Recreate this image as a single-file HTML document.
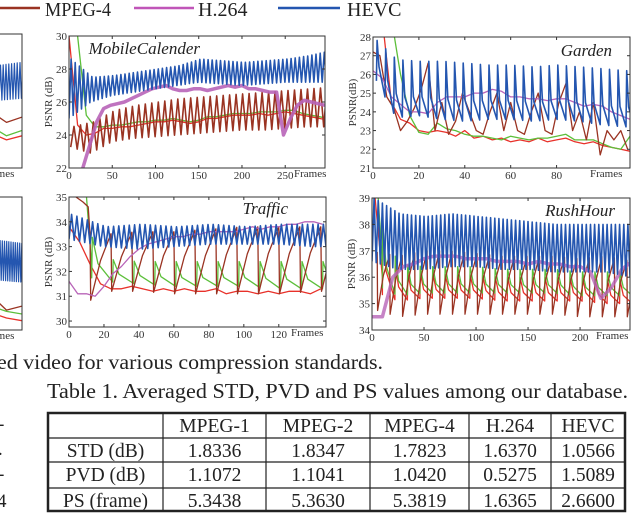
<!DOCTYPE html>
<html><head><meta charset="utf-8">
<style>
html,body{margin:0;padding:0;background:#fff;}
body{width:640px;height:513px;overflow:hidden;position:relative;font-family:"Liberation Serif",serif;}
svg{position:absolute;left:0;top:0;}
</style></head>
<body>
<svg id="fig" width="640" height="513" viewBox="0 0 640 513">
  <g>
    <line x1="0" y1="8" x2="40" y2="8" stroke="#9a3322" stroke-width="2.5"/>
    <text x="45" y="16" font-size="20" textLength="66" lengthAdjust="spacingAndGlyphs" fill="#222">MPEG-4</text>
    <line x1="134" y1="8" x2="194" y2="8" stroke="#c055b8" stroke-width="2.5"/>
    <text x="198" y="16" font-size="20" fill="#222">H.264</text>
    <line x1="278" y1="8" x2="340" y2="8" stroke="#2456b0" stroke-width="2.5"/>
    <text x="347" y="16" font-size="20" fill="#222">HEVC</text>
  </g>
  <g id="plots"></g>
  <text x="-3" y="369" font-size="21" textLength="386" lengthAdjust="spacingAndGlyphs" fill="#222">ed video for various compression standards.</text>
  <text x="47" y="398" font-size="21" textLength="581" lengthAdjust="spacingAndGlyphs" fill="#222">Table 1. Averaged STD, PVD and PS values among our database.</text>
  <g font-size="19" fill="#222">
    <text x="-2" y="430">-</text><text x="-2" y="455">.</text><text x="-2" y="480">-</text><text x="-3" y="507">4</text>
  </g>
  <g id="table"></g>
</svg>
<script>
// ---------- data ----------
// MobileCalender
const mcRed = [30,24.6,24,24.1,24.4,24.4,24.5,24.5,24.6,24.7,24.8,24.8,24.9,24.8,24.7,24.8,25,25,25.1,25.2,25.2,25.2,25.3,25.2,25.3,25.4,25.3,25.2,25.1,25,24.9];
const mcGreen = [31,30,25.2,24.5,24.5,24.6,24.6,24.7,24.8,24.8,24.9,24.9,25,24.9,24.8,24.9,25.1,25.1,25.2,25.3,25.3,25.3,25.4,25.4,25.4,25.5,25.5,25.3,25.2,25.1,25];
const mcBrownHi = [24.5,24.8,25.5,25.8,26,26.2,26.3,26.4,26.5,26.6,26.7,26.8,26.9];
const mcBrownLo = [23.3,22.9,23.6,23.8,23.9,24,24.1,24.2,24.3,24.3,24.4,24.5,24.5];
const mcMagenta = [null,null,22,23.4,24.8,25.6,25.8,25.9,26,26.2,26.4,26.6,26.8,26.9,27,26.8,26.7,26.7,26.8,26.8,26.7,26.8,26.9,27,26.9,27,26.8,26.8,26.7,26.6,26.6,24,25,25.8,26.1,26,25.9,25.8];
const mcBlueHi = [28.6,27.5,27.6,27.8,28,28.2,28.6,28.5,28.4,28.5,28.6,28.8,29.1];
const mcBlueLo = [25,26,26.4,26.6,26.8,27,27.2,27.1,27,27.1,27.2,27.2,27.2];
// Garden
const gdBlueHi = [28,26.8,26.7,26.7,26.6,26.5,26.5,26.4,26.5,26.4,26.3,26.2];
const gdBlueLo = [26,23.7,23.8,23.6,23.5,23.6,23.6,23.5,23.6,23.5,23.3,23.2];
const gdRed = [29,29,24.5,23.6,23.4,23.0,22.9,23.0,22.9,22.7,23.0,22.6,22.7,22.5,22.6,22.4,22.5,22.4,22.6,22.4,22.5,22.6,22.4,22.3,22.4,22.2,22.1,22.0,21.9];
const gdGreen = [29,29,29,26,23.8,22.9,22.8,23.4,23.1,23.0,22.8,22.7,22.7,22.6,22.5,22.7,22.6,22.5,22.6,22.6,22.7,22.8,22.5,22.5,22.5,22.3,22.1,22.0,22.7];
const gdBrown = [27.2,27,24.8,24.2,23,23.5,24.2,25.2,26.6,23,24.5,22.8,23.5,25,24,23,22.8,24,25,23,24.5,23,22.8,24,25,23,22.8,24.5,25.5,23,24,22.5,24.5,21.7,23,22.5,23,22];
const gdMagenta = [26.2,25.8,24.8,24.4,24,24,23.9,24.5,24.8,24.8,24.8,25,25,25.2,25.1,24.8,24.8,24.7,24.7,24.6,24.7,24.7,24.5,24.3,24.4,24.3,24,23.8,23.6];
// Traffic
const tfBlueHi = [34.3,33.8,33.9,33.8,33.9,33.8,33.9,33.9];
const tfBlueLo = [33.3,33.0,32.9,33.0,33.1,33.1,33.1,33.0];
const tfRed = [33.8,33.2,32.3,31.5,31.3,31.3,31.4,31.3,31.2,31.3,31.2,31.3,31.2,31.2,31.3,31.1,31.2,31.2,31.1,31.2,31.1,31.2,31.2,31.1,31.3];
const tfGreenHi = [35,32.5,32.4,32.4,32.4,32.4,32.4,32.4];
const tfGreenLo = [32,31.6,31.5,31.4,31.4,31.4,31.3,31.3];
const tfBrownHi = [33.5,33.5,33.6,33.6,33.7,33.8,33.8,33.8];
const tfBrownLo = [30.3,31.2,31.2,31.1,31.1,31.1,31.1,31.2];
const tfMagenta = [31.6,31.1,31.1,31.0,31.4,31.9,32.2,32.6,32.9,33.1,33.2,33.3,33.4,33.4,33.5,33.5,33.6,33.6,33.6,33.6,33.7,33.8,33.7,33.8,33.8,33.9,33.9,34.0,34.0,33.9];
// RushHour
const rhBlueHi = [39,38.4,38.3,38.4,38.3,38.2,38.1,38.0,38.0,38.0,38.0];
const rhBlueLo = [36.6,36.3,36.3,36.4,36.4,36.3,36.3,36.2,36.2,36.2,36.0];
const rhRedHi = [39,36.2,36.2,36.1,36.1,36.0,36.0,36.0,36.0,35.9,35.9];
const rhRedLo = [35.5,35.1,35.2,35.2,35.2,35.1,35.1,35.1,35.1,35.0,35.0];
const rhGreenHi = [39,36.5,36.4,36.4,36.4,36.3,36.3,36.3,36.2,36.2,36.2];
const rhGreenLo = [35.8,35.3,35.4,35.4,35.4,35.4,35.4,35.4,35.3,35.3,35.3];
const rhBrownHi = [37,36.8,37,37,36.9,36.8,36.8,36.8,36.7,36.8,36.6];
const rhBrownLo = [34.8,34.5,34.6,34.6,34.6,34.6,34.6,34.6,34.5,34.5,34.5];
const rhMagenta = [34.5,34.5,36,36.4,36.5,36.7,36.8,36.8,36.8,36.7,36.7,36.7,36.6,36.6,36.6,36.5,36.6,36.5,36.5,36.4,36.4,36.2,35.2,35.6,36.3,36.6];
// partial panels (cropped neighbours)
const ltBlueHi = [7.8,7.6,7.9]; const ltBlueLo = [4.8,5,5.2];
const ltRed = [2.5,2.2,2.6,2.1,2.4]; const ltGreen = [2.9,2.6,3.1,2.4,2.8]; const ltBrown = [3.8,3.2,4.2,3.4,3.8];
const lbBlueHi = [7,6.8,6.5]; const lbBlueLo = [4,3.8,3.6];
const lbRed = [1.2,1.0,1.3,0.9,0.7]; const lbGreen = [1.6,1.3,1.8,1.4,1.2]; const lbBrown = [2.2,1.6,2.6,1.5,1.8];
// table
const tableHeader = ["","MPEG-1","MPEG-2","MPEG-4","H.264","HEVC"];
const tableRows = [
  ["STD (dB)","1.8336","1.8347","1.7823","1.6370","1.0566"],
  ["PVD (dB)","1.1072","1.1041","1.0420","0.5275","1.5089"],
  ["PS (frame)","5.3438","5.3630","5.3819","1.6365","2.6600"]
];
// ---------- rendering ----------
const NS="http://www.w3.org/2000/svg";
const C={red:"#e8312a",green:"#5cbf3a",brown:"#9a3322",mag:"#b864b8",blue:"#2456b0"};
function mk(tag,attrs,parent){const e=document.createElementNS(NS,tag);for(const k in attrs)e.setAttribute(k,attrs[k]);if(parent)parent.appendChild(e);return e;}
function interp(arr,step,t){let i=t/step;if(i<=0)return arr[0];if(i>=arr.length-1)return arr[arr.length-1];const a=Math.floor(i),f=i-a;return arr[a]*(1-f)+arr[a+1]*f;}
const root=document.getElementById('plots');
let clipId=0;
function panel(p){
  const g=mk('g',{},root);
  
  
  const sx=v=>p.x0+(v-p.xmin)/(p.xmax-p.xmin)*(p.x1-p.x0);
  const sy=v=>p.y1-(v-p.ymin)/(p.ymax-p.ymin)*(p.y1-p.y0);
  const id='cp'+(clipId++);
  const cp=mk('clipPath',{id:id},g);mk('rect',{x:p.x0,y:p.y0,width:p.x1-p.x0,height:p.y1-p.y0},cp);
  const pg=mk('g',{'clip-path':'url(#'+id+')'},g);
  p.series.forEach(s=>{
    let pts=[];
    if(s.vals){s.vals.forEach((v,i)=>{if(v!==null)pts.push([sx(i*s.step),sy(v)]);});}
    else{
      for(let t=s.start;t<=p.xmax+s.period;t+=s.period){
        const hi=interp(s.hi,s.estep,t),lo=interp(s.lo,s.estep,t);
        if(s.shape==='zig'){pts.push([sx(t),sy(lo)]);pts.push([sx(t+s.period/2),sy(hi)]);}
        else if(s.shape==='decay'){pts.push([sx(t),sy(lo)]);pts.push([sx(t+0.3),sy(hi)]);pts.push([sx(t+s.period*0.3),sy(lo+(hi-lo)*0.35)]);}
        else {pts.push([sx(t),sy(hi)]);pts.push([sx(t+0.4),sy(lo)]);pts.push([sx(t+s.period*0.5),sy(lo+(hi-lo)*0.6)]);}
      }
      if(s.pre)pts=s.pre.map(v=>[sx(v[0]),sy(v[1])]).concat(pts);
    }
    const pl=mk('polyline',{points:pts.map(q=>q[0].toFixed(1)+','+q[1].toFixed(1)).join(' '),fill:'none',stroke:s.color,'stroke-width':s.w||1.3,'stroke-linejoin':'round','stroke-opacity':s.op||1},pg);
    
    
  });
  const box=mk('rect',{x:p.x0,y:p.y0,width:p.x1-p.x0,height:p.y1-p.y0,fill:'none',stroke:'#333','stroke-width':1},g);
  
  
  (p.xt||[]).forEach(v=>{
    mk('line',{x1:sx(v),y1:p.y1,x2:sx(v),y2:p.y1-3,stroke:'#333'},g);
    mk('line',{x1:sx(v),y1:p.y0,x2:sx(v),y2:p.y0+3,stroke:'#333'},g);
    const t=mk('text',{x:sx(v),y:p.y1+11,'font-size':11,'text-anchor':'middle',fill:'#333'},g);t.textContent=v;
    
    
  });
  (p.yt||[]).forEach(v=>{
    mk('line',{x1:p.x0,y1:sy(v),x2:p.x0+3,y2:sy(v),stroke:'#333'},g);
    mk('line',{x1:p.x1,y1:sy(v),x2:p.x1-3,y2:sy(v),stroke:'#333'},g);
    const t=mk('text',{x:p.x0-2,y:sy(v)+4,'font-size':11,'text-anchor':'end',fill:'#333'},g);t.textContent=v;
    
    
  });
  if(p.ylabel){const t=mk('text',{x:0,y:0,'font-size':11,'text-anchor':'middle',fill:'#333',transform:'translate('+(p.x0-17)+','+((p.y0+p.y1)/2)+') rotate(-90)'},g);t.textContent=p.ylabel;
    
    }
  const fx=mk('text',{x:p.fx,y:p.y1+9,'font-size':11,fill:'#333'},g);fx.textContent='Frames';
  
  
  if(p.title){const t=mk('text',{x:p.tx,y:p.ty,'font-size':17,'font-style':'italic',fill:'#222','text-anchor':'end'},g);t.textContent=p.title;
    
    }
}
// partial panels
panel({name:'partial-panel-top',x0:-40,x1:22,y0:34,y1:168,xmin:0,xmax:20,ymin:0,ymax:10,fx:-18,yt:[],xt:[],
  series:[
    {name:'partial-red',color:C.red,vals:ltRed,step:5},
    {name:'partial-green',color:C.green,vals:ltGreen,step:5},
    {name:'partial-brown',color:C.brown,vals:ltBrown,step:5},
    {name:'partial-blue',color:C.blue,hi:ltBlueHi,lo:ltBlueLo,estep:10,period:0.9,start:0,shape:'zig',w:1.2}
  ]});
panel({name:'partial-panel-bottom',x0:-40,x1:22,y0:197,y1:330,xmin:0,xmax:20,ymin:0,ymax:10,fx:-18,yt:[],xt:[],
  series:[
    {name:'partial-red',color:C.red,vals:lbRed,step:5},
    {name:'partial-green',color:C.green,vals:lbGreen,step:5},
    {name:'partial-brown',color:C.brown,vals:lbBrown,step:5},
    {name:'partial-blue',color:C.blue,hi:lbBlueHi,lo:lbBlueLo,estep:10,period:0.7,start:0,shape:'zig',w:1.2}
  ]});
panel({name:'mobilecalender-panel',title:'MobileCalender',tx:200,ty:54,ylabel:'PSNR (dB)',x0:69,x1:325,y0:36,y1:168,xmin:0,xmax:296,ymin:22,ymax:30,
  xt:[0,50,100,150,200,250],yt:[22,24,26,28,30],fx:294,
  series:[
    {name:'mpeg1-line',color:C.red,vals:mcRed,step:10},
    {name:'mpeg2-line',color:C.green,vals:mcGreen,step:10},
    {name:'mpeg4-line',color:C.brown,hi:mcBrownHi,lo:mcBrownLo,estep:25,period:7.5,start:2,shape:'zig',w:1.6},
    {name:'h264-line',color:C.mag,vals:mcMagenta,step:8,w:3.5,op:0.9},
    {name:'hevc-line',color:C.blue,hi:mcBlueHi,lo:mcBlueLo,estep:25,period:4.8,start:0,shape:'zig',w:1.6}
  ]});
panel({name:'garden-panel',title:'Garden',tx:612,ty:56,ylabel:'PSNR(dB)',x0:373,x1:630,y0:37,y1:168,xmin:0,xmax:112,ymin:21,ymax:28,
  xt:[0,20,40,60,80],yt:[21,22,23,24,25,26,27,28],fx:590,
  series:[
    {name:'mpeg1-line',color:C.red,vals:gdRed,step:4},
    {name:'mpeg2-line',color:C.green,vals:gdGreen,step:4},
    {name:'mpeg4-line',color:C.brown,vals:gdBrown,step:3},
    {name:'h264-line',color:C.mag,vals:gdMagenta,step:4},
    {name:'hevc-line',color:C.blue,hi:gdBlueHi,lo:gdBlueLo,estep:10,period:3.75,start:1.5,shape:'decay',w:1.6}
  ]});
panel({name:'traffic-panel',title:'Traffic',tx:288,ty:214,ylabel:'PSNR (dB)',x0:69,x1:326,y0:197,y1:327,xmin:0,xmax:147,ymin:29.76,ymax:35,
  xt:[0,20,40,60,80,100,120],yt:[30,31,32,33,34,35],fx:291,
  series:[
    {name:'mpeg1-line',color:C.red,vals:tfRed,step:6},
    {name:'mpeg2-line',color:C.green,hi:tfGreenHi,lo:tfGreenLo,estep:20,period:12,start:13,shape:'decay',pre:[[0,35.5],[10,35],[13,32.2]]},
    {name:'mpeg4-line',color:C.brown,hi:tfBrownHi,lo:tfBrownLo,estep:20,period:12,start:12,shape:'rise',pre:[[0,35.2],[8,34.8],[11,34.6]]},
    {name:'h264-line',color:C.mag,vals:tfMagenta,step:5},
    {name:'hevc-line',color:C.blue,hi:tfBlueHi,lo:tfBlueLo,estep:20,period:3,start:0,shape:'zig',w:1.6}
  ]});
panel({name:'rushhour-panel',title:'RushHour',tx:615,ty:216,ylabel:'PSNR (dB)',x0:372,x1:630,y0:198,y1:330,xmin:0,xmax:248,ymin:34,ymax:39,
  xt:[0,50,100,150,200],yt:[34,35,36,37,38,39],fx:596,
  series:[
    {name:'mpeg1-line',color:C.red,hi:rhRedHi,lo:rhRedLo,estep:25,period:12,start:10,shape:'decay',pre:[[3,39],[10,36]]},
    {name:'mpeg2-line',color:C.green,hi:rhGreenHi,lo:rhGreenLo,estep:25,period:12,start:10,shape:'decay',pre:[[6,39],[10,36.5]]},
    {name:'mpeg4-line',color:C.brown,hi:rhBrownHi,lo:rhBrownLo,estep:25,period:12,start:5,shape:'rise'},
    {name:'h264-line',color:C.mag,vals:rhMagenta,step:10,w:3.5,op:0.8},
    {name:'hevc-line',color:C.blue,hi:rhBlueHi,lo:rhBlueLo,estep:25,period:4,start:0,shape:'zig',w:1.6}
  ]});
// table
const tb=document.getElementById('table');
const colX=[48,163,266,370,469,551,625];
const rowY=[413,438,462,488,511];
mk('rect',{x:colX[0],y:rowY[0],width:colX[6]-colX[0],height:rowY[4]-rowY[0],fill:'none',stroke:'#222','stroke-width':2.5},tb);
colX.slice(1,6).forEach(x=>mk('line',{x1:x,y1:rowY[0],x2:x,y2:rowY[4],stroke:'#222','stroke-width':1.2},tb));
rowY.slice(1,4).forEach(y=>mk('line',{x1:colX[0],y1:y,x2:colX[6],y2:y,stroke:'#222','stroke-width':1.2},tb));
[tableHeader].concat(tableRows).forEach((row,r)=>{
  row.forEach((txt,c)=>{
    const t=mk('text',{x:(colX[c]+colX[c+1])/2,y:rowY[r]+19,'font-size':19.5,'text-anchor':'middle',fill:'#222'},tb);
    t.textContent=txt;
    
    
  });
});
</script>
</body></html>
